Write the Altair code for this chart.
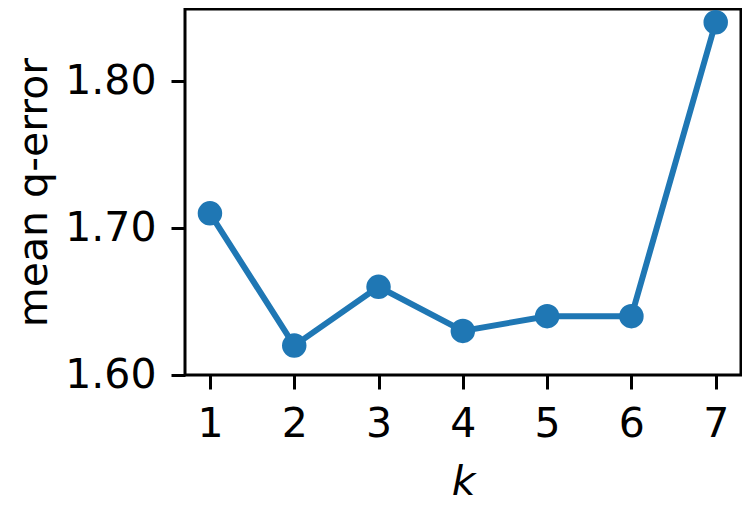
import altair as alt
import pandas as pd

k_values = [1, 2, 3, 4, 5, 6, 7]
mean_qerror = [1.71, 1.62, 1.66, 1.63, 1.64, 1.64, 1.84]

df = pd.DataFrame({"k": k_values, "q": mean_qerror})

FONT = "DejaVu Sans"
COLOR = "#1f77b4"

x = alt.X("k:Q", scale=alt.Scale(domain=[0.704, 7.30], nice=False, zero=False),
          axis=alt.Axis(values=k_values, format="d", title="k", titleFontStyle="italic",
                        titleFontWeight="normal"))
y = alt.Y("q:Q", scale=alt.Scale(domain=[1.6, 1.849], nice=False, zero=False),
          axis=alt.Axis(values=[1.6, 1.7, 1.8], format=".2f", title="mean q-error",
                        titleFontWeight="normal"))

base = alt.Chart(df).encode(x=x, y=y)
line = base.mark_line(color=COLOR, strokeWidth=6)
pts = base.mark_point(filled=True, color=COLOR, size=600, opacity=1, shape="circle")

chart = (line + pts).properties(
    width=556, height=366,
    autosize=alt.AutoSizeParams(type="none"),
    padding={"left": 177, "top": 1, "right": 1, "bottom": 128},
).configure_view(
    stroke="black", strokeWidth=3
).configure_axis(
    labelFont=FONT, titleFont=FONT, labelFontSize=41, titleFontSize=41,
    labelColor="black", titleColor="black",
    tickColor="black", tickWidth=3, tickSize=14,
    domain=False, grid=False, labelPadding=15,
).configure_axisX(
    titlePadding=18,
).configure_axisY(
    titlePadding=9,
)

chart.save("out.html", embed_options={"renderer": "svg", "actions": False})
